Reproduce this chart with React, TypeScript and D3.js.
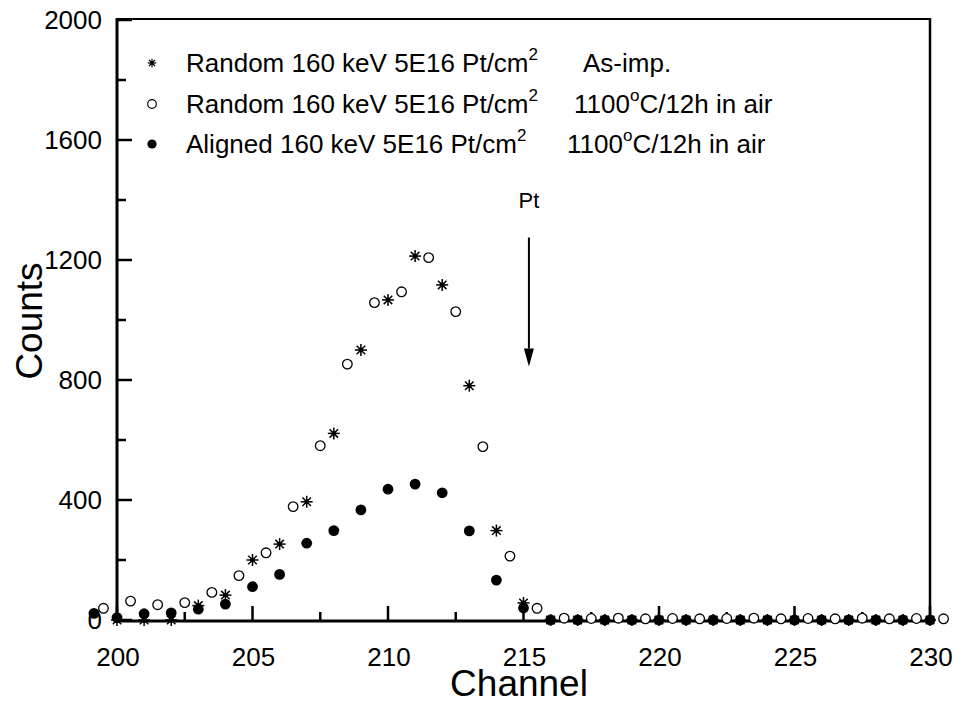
import React from "react";
import * as d3 from "d3";

// ---- data ----
const starChannels = [200,201,202,203,204,205,206,207,208,209,210,211,212,213,214,215,216,217,218,219,220,221,222,223,224,225,226,227,228,229,230];
const starCounts = [0,0,0,48,83,200,253,394,622,900,1067,1213,1117,781,298,57,0,0,0,0,0,0,0,0,0,0,0,0,0,0,0];

const openChannels = [199.5,200.5,201.5,202.5,203.5,204.5,205.5,206.5,207.5,208.5,209.5,210.5,211.5,212.5,213.5,214.5,215.5,216.5,217.5,218.5,219.5,220.5,221.5,222.5,223.5,224.5,225.5,226.5,227.5,228.5,229.5,230.5];
const openCounts = [39,63,51,58,92,148,224,378,581,853,1058,1094,1208,1028,578,213,39,6,5,6,4,5,4,5,6,4,5,4,6,4,5,4];

const filledChannels = [199.15,200,201,202,203,204,205,206,207,208,209,210,211,212,213,214,215,216,217,218,219,220,221,222,223,224,225,226,227,228,229,230];
const filledCounts = [22,8,21,24,36,53,111,152,256,298,367,436,453,424,297,133,40,0,0,0,0,0,0,0,0,0,0,0,0,0,0,0];

const xTicks = [200,205,210,215,220,225,230];
const xMinorTicks = [202.5,207.5,212.5,217.5,222.5,227.5];
const yTicks = [0,400,800,1200,1600,2000];
const yMinorTicks = [200,600,1000,1400,1800];

const legendLabels = [
  "Random 160 keV 5E16 Pt/cm",
  "Random 160 keV 5E16 Pt/cm",
  "Aligned 160 keV 5E16 Pt/cm",
];
const legendTails = ["As-imp.", "1100", "1100"];

const arrowChannel = 215.2;
const arrowTopCount = 1275;
const arrowTipCount = 845;
const arrowHeadCount = 905;
const ptLabelCount = 1375;

const FONT = "'Liberation Sans', Arial, Helvetica, sans-serif";

function Star({ cx, cy, s, w }: { cx: number; cy: number; s: number; w: number }) {
  const d = s * 0.7071;
  return (
    <g stroke="#000" strokeWidth={w}>
      <line x1={cx - s} y1={cy} x2={cx + s} y2={cy} />
      <line x1={cx} y1={cy - s} x2={cx} y2={cy + s} />
      <line x1={cx - d} y1={cy - d} x2={cx + d} y2={cy + d} />
      <line x1={cx - d} y1={cy + d} x2={cx + d} y2={cy - d} />
      <circle cx={cx} cy={cy} r={s * 0.4} fill="#000" stroke="none" />
    </g>
  );
}

export default function App() {
  const W = 953, H = 710;
  const x = d3.scaleLinear().domain([200, 230]).range([117, 930]);
  const y = d3.scaleLinear().domain([0, 2000]).range([620, 20]);
  const x0 = x(200), x1 = x(230), yb = y(0), yt = y(2000);

  const ax = x(arrowChannel);

  const legendY = [63, 104, 144];
  const legendKinds = ["star", "open", "filled"];
  const tailX = [583, 574, 567];

  return (
    <svg width={W} height={H} style={{ position: "absolute", left: 0, top: 0, background: "#fff" }} fontFamily={FONT}>
      <rect x={0} y={0} width={W} height={H} fill="#fff" />
      {/* frame */}
      <line x1={x0} y1={yt - 1} x2={x1 + 1} y2={yt - 1} stroke="#000" strokeWidth={2} />
      <line x1={x1} y1={yt - 2} x2={x1} y2={yb + 1} stroke="#000" strokeWidth={2.5} />
      <line x1={x0} y1={yt - 2} x2={x0} y2={yb + 2} stroke="#000" strokeWidth={3} />
      <line x1={x0 - 1} y1={yb + 1} x2={x1 + 1} y2={yb + 1} stroke="#000" strokeWidth={3} />

      {/* y ticks */}
      {yTicks.map((t) => (
        <g key={"yt" + t}>
          <line x1={x0} x2={x0 + 15} y1={y(t)} y2={y(t)} stroke="#000" strokeWidth={2.5} />
          <text x={102} y={y(t)} dy="0.36em" textAnchor="end" fontSize={26}>{t}</text>
        </g>
      ))}
      {yMinorTicks.map((t) => (
        <line key={"ym" + t} x1={x0} x2={x0 + 9} y1={y(t)} y2={y(t)} stroke="#000" strokeWidth={2.5} />
      ))}
      {/* x ticks */}
      {xTicks.map((t) => (
        <g key={"xt" + t}>
          <line x1={x(t)} x2={x(t)} y1={yb} y2={yb - 14} stroke="#000" strokeWidth={2.5} />
          <text x={x(t) + 1} y={666} textAnchor="middle" fontSize={26}>{t}</text>
        </g>
      ))}
      {xMinorTicks.map((t) => (
        <line key={"xm" + t} x1={x(t)} x2={x(t)} y1={yb} y2={yb - 8} stroke="#000" strokeWidth={2.5} />
      ))}

      {/* axis titles */}
      <text x={519} y={696} textAnchor="middle" fontSize={37}>Channel</text>
      <text transform={`translate(42,321) rotate(-90)`} textAnchor="middle" fontSize={37}>Counts</text>

      {/* data */}
      {starChannels.map((c, i) => (
        <Star key={"s" + i} cx={x(c)} cy={y(starCounts[i])} s={6} w={1.5} />
      ))}
      {openChannels.map((c, i) => (
        <circle key={"o" + i} cx={x(c)} cy={y(openCounts[i])} r={4.8} fill="#fff" stroke="#000" strokeWidth={1.3} />
      ))}
      {filledChannels.map((c, i) => (
        <circle key={"f" + i} cx={x(c)} cy={y(filledCounts[i])} r={5.4} fill="#000" />
      ))}

      {/* arrow */}
      <line x1={ax} x2={ax} y1={y(arrowTopCount)} y2={y(arrowHeadCount)} stroke="#000" strokeWidth={2} />
      <path d={`M${ax - 5},${y(arrowHeadCount)} L${ax + 5},${y(arrowHeadCount)} L${ax},${y(arrowTipCount)} Z`} fill="#000" />
      <text x={ax} y={y(ptLabelCount)} textAnchor="middle" fontSize={22}>Pt</text>

      {/* legend */}
      {legendLabels.map((lab, i) => {
        const ly = legendY[i];
        const kind = legendKinds[i];
        return (
          <g key={"lg" + i}>
            {kind === "star" && <Star cx={152} cy={ly} s={4.2} w={1.2} />}
            {kind === "open" && <circle cx={152} cy={ly} r={4.3} fill="#fff" stroke="#000" strokeWidth={1.2} />}
            {kind === "filled" && <circle cx={152} cy={ly} r={4.6} fill="#000" />}
            <text x={186} y={ly + 9} fontSize={26}>
              {lab}
              <tspan dy={-12} fontSize={17}>2</tspan>
            </text>
            {i === 0 ? (
              <text x={tailX[i]} y={ly + 9} fontSize={26}>{legendTails[i]}</text>
            ) : (
              <text x={tailX[i]} y={ly + 9} fontSize={26}>
                {legendTails[i]}
                <tspan dy={-12} fontSize={17}>o</tspan>
                <tspan dy={12}>C/12h in air</tspan>
              </text>
            )}
          </g>
        );
      })}
    </svg>
  );
}
